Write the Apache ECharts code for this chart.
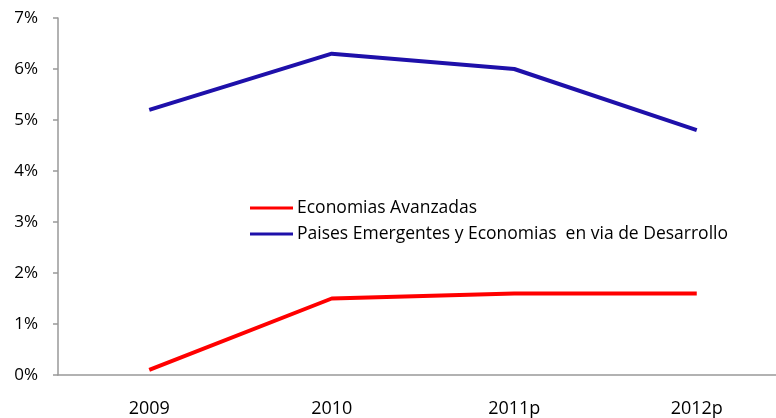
<!DOCTYPE html>
<html>
<head>
<meta charset="utf-8">
<script src="https://cdn.jsdelivr.net/npm/echarts@6/dist/echarts.min.js"></script>
<style>
  html, body { margin: 0; padding: 0; background: #fff; }
  #chart { width: 776px; height: 418px; }
</style>
</head>
<body>
<div id="chart"></div>
<script>
// datos
const years = ['2009', '2010', '2011p', '2012p']
const avanzadas = [0.1, 1.5, 1.6, 1.6]
const emergentes = [5.2, 6.3, 6.0, 4.8]

const font = '"Open Sans", sans-serif'

const chart = echarts.init(document.getElementById('chart'))

chart.setOption({
  animation: false,
  textStyle: { fontFamily: font },
  grid: {
    left: 58,
    top: 18,
    width: 730,
    height: 357,
    outerBoundsMode: 'none'
  },
  legend: {
    orient: 'vertical',
    left: 250,
    top: 199,
    padding: 0,
    itemGap: 8,
    itemWidth: 43,
    itemHeight: 3,
    icon: 'rect',
    textStyle: { fontSize: 17.5, color: '#000', fontFamily: font, padding: [0, 0, 0, -1] },
    data: ['Economias Avanzadas', 'Paises Emergentes y Economias  en via de Desarrollo']
  },
  xAxis: {
    type: 'category',
    data: years,
    boundaryGap: true,
    axisLine: { lineStyle: { color: '#999', width: 1.5 } },
    axisTick: { length: 5, lineStyle: { color: '#999', width: 1.5 } },
    axisLabel: { fontSize: 18, color: '#000', margin: 25, fontFamily: font }
  },
  yAxis: {
    type: 'value',
    min: 0,
    max: 7,
    interval: 1,
    axisLine: { show: true, lineStyle: { color: '#999', width: 1.5 } },
    axisTick: { show: true, length: 5, lineStyle: { color: '#999', width: 1.5 } },
    splitLine: { show: false },
    axisLabel: {
      fontSize: 17,
      color: '#000',
      margin: 20,
      fontFamily: font,
      formatter: v => v + '%'
    }
  },
  series: [
    {
      name: 'Economias Avanzadas',
      type: 'line',
      data: avanzadas,
      symbol: 'none',
      color: '#ff0000',
      lineStyle: { width: 4, color: '#ff0000' }
    },
    {
      name: 'Paises Emergentes y Economias  en via de Desarrollo',
      type: 'line',
      data: emergentes,
      symbol: 'none',
      color: '#1e10aa',
      lineStyle: { width: 4, color: '#1e10aa' }
    }
  ]
})
</script>
</body>
</html>
